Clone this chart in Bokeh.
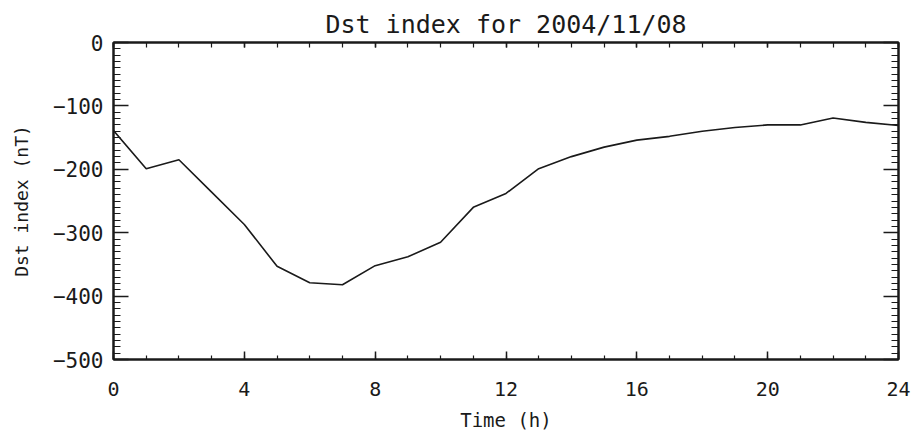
from bokeh.plotting import figure
from bokeh.models import Range1d, LinearAxis, SingleIntervalTicker, CustomJSTickFormatter
from bokeh.embed import file_html
from bokeh.resources import INLINE

# Hourly Dst index values for 2004/11/08 (nT)
hours = list(range(0, 25))
dst = [-139, -199, -185, -236, -287, -353, -379, -382, -352, -338, -315,
       -260, -238, -199, -180, -165, -154, -148, -140, -134, -130, -130,
       -119, -126, -131]

title_text = "Dst index for 2004/11/08"
x_label = "Time (h)"
y_label = "Dst index (nT)"

FONT = "DejaVu Sans Mono"
INK = "#1a1a1a"

p = figure(width=918, height=439, output_backend="svg", toolbar_location=None,
           x_range=Range1d(0, 24), y_range=Range1d(-500, 0),
           min_border_left=113, min_border_right=20, min_border_top=42,
           min_border_bottom=80, x_axis_type=None, y_axis_type=None)
p.title.text = title_text
p.title.align = "center"
p.title.text_font = FONT
p.title.text_font_size = "25px"
p.title.text_font_style = "normal"
p.title.text_color = INK
p.title.standoff = 8

p.xgrid.visible = False
p.ygrid.visible = False
p.outline_line_color = INK
p.outline_line_width = 2
p.background_fill_color = "white"
p.border_fill_color = "white"


def xticker():
    return SingleIntervalTicker(interval=4, num_minor_ticks=4)


def yticker():
    return SingleIntervalTicker(interval=100, num_minor_ticks=10)


def style(ax, major_in, minor_in, labels=True):
    ax.axis_line_color = INK
    ax.axis_line_width = 2
    ax.major_tick_line_color = INK
    ax.minor_tick_line_color = INK
    ax.major_tick_line_width = 1.5
    ax.minor_tick_line_width = 1.2
    ax.major_tick_in = major_in
    ax.major_tick_out = 0
    ax.minor_tick_in = minor_in
    ax.minor_tick_out = 0
    if labels:
        ax.major_label_text_font = FONT
        ax.major_label_text_color = INK
        ax.axis_label_text_font = FONT
        ax.axis_label_text_color = INK
        ax.axis_label_text_font_style = "normal"
    else:
        ax.formatter = CustomJSTickFormatter(code="return ''")
        ax.major_label_standoff = 0


bottom = LinearAxis(ticker=xticker(), axis_label=x_label)
style(bottom, 8, 4)
bottom.major_label_text_font_size = "20px"
bottom.major_label_standoff = 22
bottom.axis_label_text_font_size = "19px"
bottom.axis_label_standoff = 10
p.add_layout(bottom, "below")

left = LinearAxis(ticker=yticker(), axis_label=y_label)
style(left, 15, 7)
left.major_label_text_font_size = "21px"
left.major_label_standoff = 10
left.axis_label_text_font_size = "18px"
left.axis_label_standoff = 18
p.add_layout(left, "left")

top = LinearAxis(ticker=xticker())
style(top, 5, 5, labels=False)
p.add_layout(top, "above")

right = LinearAxis(ticker=yticker())
style(right, 15, 7, labels=False)
p.add_layout(right, "right")

p.line(hours, dst, line_color=INK, line_width=1.6)

open("out.html", "w").write(file_html(p, INLINE))
